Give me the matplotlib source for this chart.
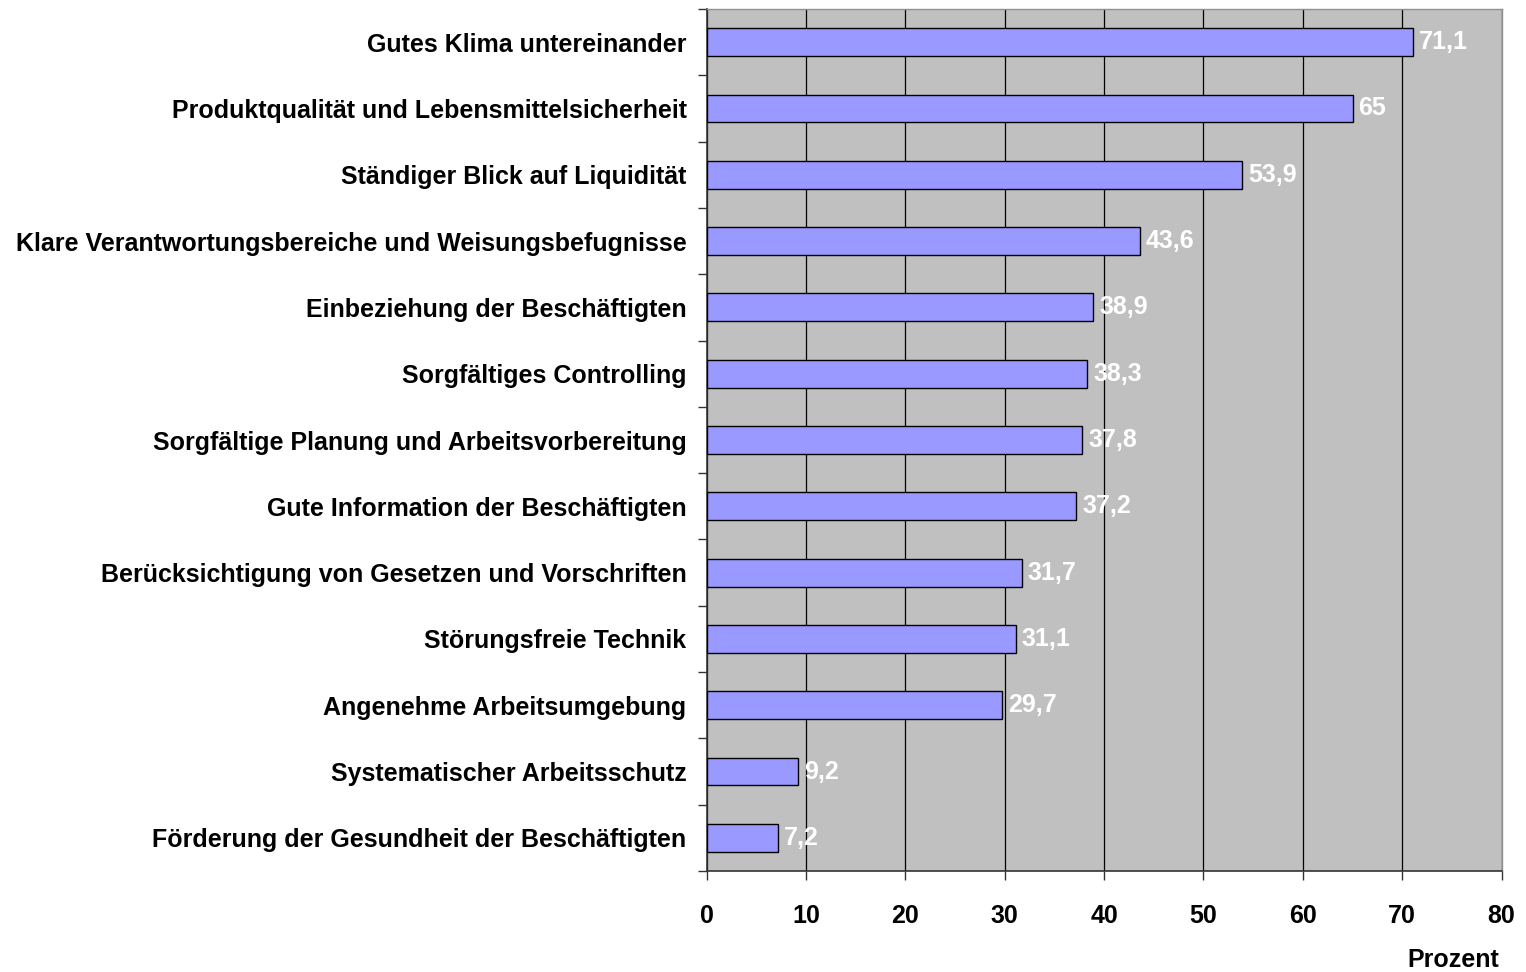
import numpy as np
import matplotlib
matplotlib.use("Agg")
import matplotlib.pyplot as plt
from matplotlib.ticker import FixedLocator

plt.rcParams['font.family'] = ['Liberation Sans', 'DejaVu Sans']

categories = [
    "Gutes Klima untereinander",
    "Produktqualität und Lebensmittelsicherheit",
    "Ständiger Blick auf Liquidität",
    "Klare Verantwortungsbereiche und Weisungsbefugnisse",
    "Einbeziehung der Beschäftigten",
    "Sorgfältiges Controlling",
    "Sorgfältige Planung und Arbeitsvorbereitung",
    "Gute Information der Beschäftigten",
    "Berücksichtigung von Gesetzen und Vorschriften",
    "Störungsfreie Technik",
    "Angenehme Arbeitsumgebung",
    "Systematischer Arbeitsschutz",
    "Förderung der Gesundheit der Beschäftigten",
]
values = [71.1, 65.0, 53.9, 43.6, 38.9, 38.3, 37.8, 37.2, 31.7, 31.1, 29.7, 9.2, 7.2]
value_labels = ["71,1", "65", "53,9", "43,6", "38,9", "38,3", "37,8", "37,2",
                "31,7", "31,1", "29,7", "9,2", "7,2"]
xticks = [0, 10, 20, 30, 40, 50, 60, 70, 80]

FS = 18

fig = plt.figure(figsize=(15.26, 9.72), dpi=100)
ax = fig.add_axes([0.4631, 0.1039, 0.984 - 0.4631, 0.9907 - 0.1039])
ax.set_facecolor('#c0c0c0')

y = np.arange(len(categories))
ax.barh(y, values, height=0.42, color='#9999ff', edgecolor='black',
        linewidth=1.0, zorder=3)

for yi, v, lab in zip(y, values, value_labels):
    ax.text(v + 0.6, yi, lab, color='white', fontweight='bold',
            fontsize=FS, va='center', ha='left', zorder=4)

ax.set_xlim(0, 80)
ax.set_ylim(len(categories) - 0.5, -0.5)

ax.set_xticks(xticks)
ax.set_xticklabels([str(t) for t in xticks], fontweight='bold', fontsize=FS)
ax.xaxis.grid(True, color='black', linewidth=0.9, zorder=1)
ax.set_axisbelow(True)

ax.set_yticks(y)
ax.set_yticklabels(categories, fontweight='bold', fontsize=FS)
ax.yaxis.set_minor_locator(FixedLocator(np.arange(-0.5, len(categories), 1.0)))
ax.tick_params(axis='y', which='major', length=0, pad=14.5)
ax.tick_params(axis='y', which='minor', length=6.5, width=1.0, color='#333333')
ax.tick_params(axis='x', which='major', length=6.5, width=1.0, color='#333333', pad=17)

for side in ['top', 'right']:
    ax.spines[side].set_color('#909090')
    ax.spines[side].set_linewidth(1.0)
for side in ['left', 'bottom']:
    ax.spines[side].set_color('#333333')
    ax.spines[side].set_linewidth(1.2)

fig.text(1453 / 1526, 1 - 960 / 972, "Prozent", fontweight='bold', fontsize=FS,
         ha='center', va='center')

fig.savefig("out.png", dpi=100)
